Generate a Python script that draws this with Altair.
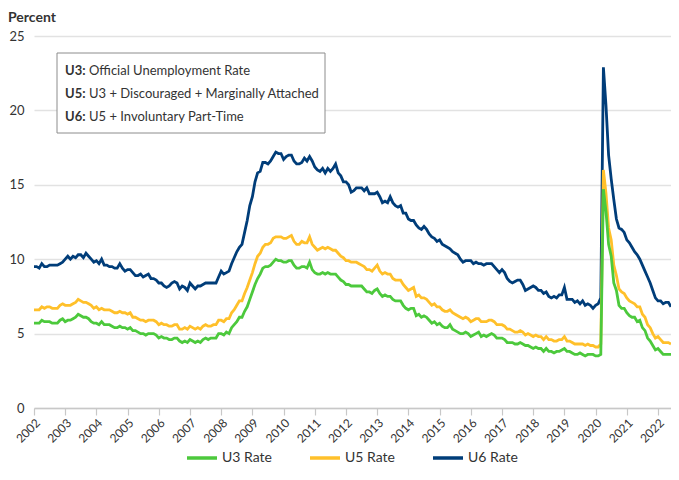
import altair as alt
import pandas as pd

start_year = 2002
series_names = ["U3 Rate", "U5 Rate", "U6 Rate"]
series_colors = ["#4cc93c", "#ffc02a", "#003d79"]

u3 = [
    5.7, 5.7, 5.7, 5.9, 5.8, 5.8, 5.8, 5.7, 5.7, 5.7, 5.9, 6.0,
    5.8, 5.9, 5.9, 6.0, 6.1, 6.3, 6.2, 6.1, 6.1, 6.0, 5.8, 5.7,
    5.7, 5.6, 5.8, 5.6, 5.6, 5.6, 5.5, 5.4, 5.4, 5.5, 5.4, 5.4,
    5.3, 5.4, 5.2, 5.2, 5.1, 5.0, 5.0, 4.9, 5.0, 5.0, 5.0, 4.9,
    4.7, 4.8, 4.7, 4.7, 4.6, 4.6, 4.7, 4.7, 4.5, 4.4, 4.5, 4.4,
    4.6, 4.5, 4.4, 4.5, 4.4, 4.6, 4.7, 4.6, 4.7, 4.7, 4.7, 5.0,
    5.0, 4.9, 5.1, 5.0, 5.4, 5.6, 5.8, 6.1, 6.1, 6.5, 6.8, 7.3,
    7.8, 8.3, 8.7, 9.0, 9.4, 9.5, 9.5, 9.6, 9.8, 10.0, 9.9, 9.9,
    9.8, 9.8, 9.9, 9.9, 9.6, 9.4, 9.4, 9.5, 9.5, 9.4, 9.8, 9.3,
    9.1, 9.0, 9.0, 9.1, 9.0, 9.1, 9.0, 9.0, 9.0, 8.8, 8.6, 8.5,
    8.3, 8.3, 8.2, 8.2, 8.2, 8.2, 8.2, 8.0, 7.8, 7.8, 7.7, 7.9,
    8.0, 7.7, 7.5, 7.6, 7.5, 7.5, 7.3, 7.2, 7.2, 7.2, 6.9, 6.7,
    6.6, 6.7, 6.7, 6.2, 6.3, 6.1, 6.2, 6.1, 5.9, 5.7, 5.8, 5.6,
    5.7, 5.5, 5.4, 5.4, 5.6, 5.3, 5.2, 5.1, 5.0, 5.0, 5.1, 5.0,
    4.8, 4.9, 5.0, 5.1, 4.8, 4.9, 4.8, 4.9, 5.0, 4.9, 4.7, 4.7,
    4.7, 4.6, 4.4, 4.4, 4.4, 4.3, 4.3, 4.4, 4.3, 4.2, 4.2, 4.1,
    4.0, 4.1, 4.0, 4.0, 3.8, 4.0, 3.8, 3.8, 3.7, 3.8, 3.8, 3.9,
    4.0, 3.8, 3.8, 3.7, 3.6, 3.6, 3.7, 3.6, 3.5, 3.6, 3.6, 3.6,
    3.5, 3.5, 3.6, 14.7, 13.2, 11.0, 10.2, 8.4, 7.9, 6.9, 6.7, 6.7,
    6.4, 6.2, 6.1, 6.1, 5.8, 5.9, 5.4, 5.2, 4.7, 4.5, 4.2, 3.9,
    4.0, 3.8, 3.6, 3.6, 3.6, 3.6,
]

u5 = [
    6.6, 6.6, 6.6, 6.8, 6.7, 6.8, 6.8, 6.7, 6.7, 6.7, 6.9, 7.0,
    6.9, 6.9, 6.9, 7.0, 7.1, 7.3, 7.2, 7.1, 7.1, 7.0, 6.9, 6.7,
    6.8, 6.6, 6.7, 6.6, 6.6, 6.6, 6.5, 6.4, 6.4, 6.5, 6.4, 6.4,
    6.3, 6.4, 6.1, 6.1, 6.0, 5.9, 5.9, 5.8, 5.9, 5.9, 5.9, 5.8,
    5.6, 5.7, 5.6, 5.6, 5.5, 5.5, 5.6, 5.6, 5.3, 5.3, 5.4, 5.3,
    5.5, 5.4, 5.3, 5.4, 5.3, 5.5, 5.6, 5.5, 5.5, 5.6, 5.6, 5.9,
    5.9, 5.8, 6.0, 6.0, 6.4, 6.6, 6.9, 7.2, 7.2, 7.7, 8.1, 8.6,
    9.1, 9.7, 10.2, 10.4, 10.8, 11.0, 11.0, 11.1, 11.4, 11.5, 11.5, 11.5,
    11.4, 11.4, 11.5, 11.6, 11.2, 11.0, 11.0, 11.2, 11.1, 11.1, 11.5, 11.0,
    10.8, 10.6, 10.7, 10.8, 10.7, 10.8, 10.7, 10.6, 10.6, 10.4, 10.2, 10.1,
    9.9, 9.9, 9.8, 9.8, 9.8, 9.7, 9.6, 9.5, 9.3, 9.3, 9.2, 9.4,
    9.6, 9.2, 9.0, 9.1, 9.0, 9.0, 8.7, 8.6, 8.6, 8.6, 8.3, 8.1,
    7.9, 8.0, 8.1, 7.5, 7.6, 7.4, 7.4, 7.3, 7.1, 6.9, 7.0, 6.8,
    6.8, 6.6, 6.5, 6.5, 6.6, 6.4, 6.3, 6.2, 6.1, 6.0, 6.1, 6.0,
    5.8, 5.9, 6.0, 6.0, 5.8, 5.8, 5.8, 5.9, 5.9, 5.8, 5.6, 5.6,
    5.6, 5.5, 5.3, 5.3, 5.2, 5.1, 5.1, 5.2, 5.1, 4.9, 5.0, 4.9,
    4.8, 4.9, 4.8, 4.8, 4.6, 4.8, 4.6, 4.6, 4.5, 4.5, 4.6, 4.6,
    4.8, 4.5, 4.5, 4.4, 4.3, 4.3, 4.3, 4.3, 4.2, 4.3, 4.2, 4.2,
    4.1, 4.1, 4.3, 16.0, 14.4, 12.1, 11.3, 9.6, 8.9, 8.0, 7.8, 7.7,
    7.4, 7.2, 7.1, 7.0, 6.8, 6.8, 6.3, 6.1, 5.6, 5.4, 5.0, 4.7,
    4.8, 4.6, 4.4, 4.4, 4.4, 4.3,
]

u6 = [
    9.5, 9.5, 9.4, 9.7, 9.5, 9.5, 9.6, 9.6, 9.6, 9.6, 9.7, 9.8,
    10.0, 10.2, 10.0, 10.2, 10.1, 10.3, 10.3, 10.1, 10.4, 10.2, 10.0, 9.8,
    9.9, 9.7, 10.0, 9.6, 9.6, 9.5, 9.5, 9.4, 9.4, 9.7, 9.4, 9.2,
    9.3, 9.3, 9.1, 8.9, 8.9, 9.0, 8.8, 8.9, 9.0, 8.7, 8.7, 8.6,
    8.4, 8.4, 8.2, 8.1, 8.2, 8.4, 8.5, 8.4, 8.0, 8.2, 8.1, 7.9,
    8.4, 8.2, 8.0, 8.2, 8.2, 8.3, 8.4, 8.4, 8.4, 8.4, 8.4, 8.8,
    9.2, 9.0, 9.1, 9.2, 9.7, 10.1, 10.5, 10.8, 11.0, 11.8, 12.6, 13.6,
    14.2, 15.2, 15.8, 15.9, 16.5, 16.5, 16.4, 16.6, 16.9, 17.2, 17.1, 17.1,
    16.7, 16.9, 17.0, 17.0, 16.6, 16.4, 16.4, 16.5, 16.8, 16.6, 16.9, 16.6,
    16.2, 16.0, 15.9, 16.1, 15.8, 16.1, 15.9, 16.1, 16.4, 15.8, 15.6, 15.2,
    15.2, 15.0, 14.5, 14.6, 14.8, 14.8, 14.8, 14.6, 14.8, 14.4, 14.4, 14.4,
    14.5, 14.2, 13.8, 13.9, 13.8, 14.2, 13.8, 13.6, 13.5, 13.6, 13.1, 13.1,
    12.7, 12.6, 12.6, 12.3, 12.1, 12.0, 12.2, 12.0, 11.7, 11.5, 11.4, 11.2,
    11.3, 11.0, 10.9, 10.8, 10.7, 10.5, 10.4, 10.3, 10.0, 9.8, 9.9, 9.9,
    9.9, 9.7, 9.8, 9.7, 9.7, 9.6, 9.7, 9.7, 9.7, 9.5, 9.3, 9.1,
    9.3, 9.1, 8.7, 8.5, 8.4, 8.5, 8.6, 8.6, 8.3, 7.9, 8.0, 8.1,
    8.2, 8.1, 7.9, 7.9, 7.7, 7.8, 7.5, 7.4, 7.5, 7.4, 7.6, 7.6,
    8.1, 7.3, 7.3, 7.3, 7.1, 7.2, 7.0, 7.2, 6.9, 7.0, 6.9, 6.7,
    6.9, 7.0, 7.4, 22.9, 20.3, 17.0, 15.4, 14.0, 12.7, 12.1, 12.0, 11.8,
    11.3, 11.1, 10.8, 10.5, 10.3, 10.0, 9.6, 9.2, 8.8, 8.4, 7.9, 7.4,
    7.2, 7.2, 7.0, 7.1, 7.1, 6.8,
]

x_ticks = list(range(2002, 2023))
y_ticks = [0, 5, 10, 15, 20, 25]

note_keys = ["U3:", "U5:", "U6:"]
note_texts = [
    "Official Unemployment Rate",
    "U3 + Discouraged + Marginally Attached",
    "U5 + Involuntary Part-Time",
]
y_title = "Percent"

rows = []
for name, vals in zip(series_names, [u3, u5, u6]):
    for i, v in enumerate(vals):
        rows.append({"t": start_year + i / 12.0, "series": name, "value": v})
df = pd.DataFrame(rows)

FONT = "Lato"
TXT = "#333333"

color_scale = alt.Scale(domain=series_names, range=series_colors)
x_enc = alt.X(
    "t:Q",
    scale=alt.Scale(domain=[start_year, start_year + (len(u3) - 1) / 12.0], nice=False, zero=False),
    axis=alt.Axis(values=x_ticks, format="d", title=None, grid=False,
                  labelAngle=-45, labelAlign="right", labelBaseline="top",
                  labelPadding=2, labelFontSize=12, tickSize=7,
                  tickColor="#c8c8c8", domainColor="#c8c8c8", domainWidth=1.5,
                  tickWidth=1.2, labelFlush=False, labelOverlap=False),
)
y_enc = alt.Y(
    "value:Q",
    scale=alt.Scale(domain=[0, 25], nice=False),
    axis=alt.Axis(values=y_ticks, title=None, domain=False, ticks=False,
                  labelPadding=10, labelFontSize=13, gridColor="#e2e2e2",
                  gridWidth=1.3),
)
color_enc = alt.Color(
    "series:N", scale=color_scale,
    legend=alt.Legend(orient="none", legendX=151, legendY=405, direction="horizontal",
                      columns=3, title=None, symbolType="stroke", symbolSize=900,
                      symbolStrokeWidth=3.5, labelFontSize=14, labelFont=FONT,
                      labelColor=TXT, columnPadding=31, labelOffset=3, padding=0),
)

base = alt.Chart(df)
layers = []
for name in reversed(series_names):
    layers.append(
        base.transform_filter(alt.datum.series == name)
        .mark_line(strokeWidth=2.8)
        .encode(x=x_enc, y=y_enc, color=color_enc)
    )

one = alt.Data(values=[{"a": 1}])
box = alt.Chart(one).mark_rect(fill="white", stroke="#8c8c8c", strokeWidth=1).encode(
    x=alt.value(23), x2=alt.value(291), y=alt.value(17), y2=alt.value(97)
)
layers.append(box)
for k, (key, txt) in enumerate(zip(note_keys, note_texts)):
    yy = 35 + 23 * k
    layers.append(
        alt.Chart(one).mark_text(align="left", baseline="middle", fontSize=13,
                                 fontWeight="bold", font=FONT, color=TXT)
        .encode(x=alt.value(31), y=alt.value(yy), text=alt.value(key))
    )
    layers.append(
        alt.Chart(one).mark_text(align="left", baseline="middle", fontSize=13,
                                 font=FONT, color=TXT)
        .encode(x=alt.value(55), y=alt.value(yy), text=alt.value(txt))
    )
layers.append(
    alt.Chart(one).mark_text(align="left", baseline="middle", fontSize=14,
                             fontWeight="bold", font=FONT, color=TXT)
    .encode(x=alt.value(-26), y=alt.value(-18), text=alt.value(y_title))
)

chart = (
    alt.layer(*layers)
    .properties(width=637, height=372, autosize=alt.AutoSizeParams(type="none"),
                padding={"left": 26, "top": 28, "right": 0, "bottom": 57})
    .configure_view(stroke=None)
    .configure_axis(labelFont=FONT, labelColor=TXT)
)

chart.save("out.html", embed_options={"renderer": "svg", "actions": False})
